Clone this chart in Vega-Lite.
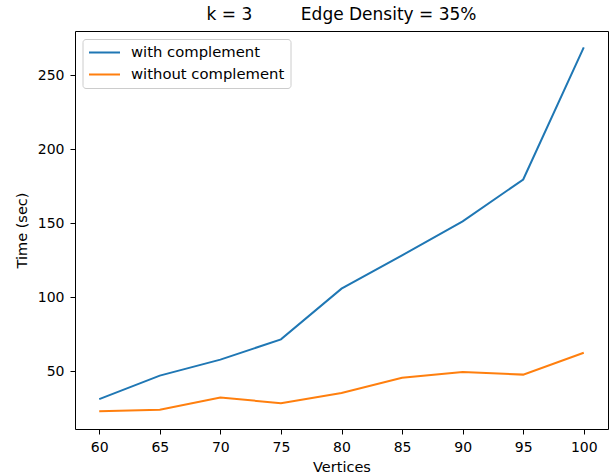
{
  "$schema": "https://vega.github.io/schema/vega-lite/v6.json",
  "autosize": {"type": "none"},
  "padding": {"left": 75, "top": 31, "right": 7, "bottom": 47},
  "width": 533,
  "height": 398,
  "background": "white",
  "title": {
    "text": "k = 3\u00a0\u00a0\u00a0\u00a0\u00a0\u00a0\u00a0\u00a0\u00a0Edge Density = 35%",
    "font": "DejaVu Sans",
    "fontSize": 17,
    "fontWeight": "normal",
    "color": "black",
    "anchor": "middle",
    "baseline": "alphabetic",
    "offset": 10,
    "dy": 16
  },
  "data": {
    "values": [
      {"Vertices": 60, "Time": 31.3, "series": "with complement"},
      {"Vertices": 65, "Time": 47.1, "series": "with complement"},
      {"Vertices": 70, "Time": 57.9, "series": "with complement"},
      {"Vertices": 75, "Time": 71.6, "series": "with complement"},
      {"Vertices": 80, "Time": 105.8, "series": "with complement"},
      {"Vertices": 85, "Time": 128.3, "series": "with complement"},
      {"Vertices": 90, "Time": 151.2, "series": "with complement"},
      {"Vertices": 95, "Time": 179.5, "series": "with complement"},
      {"Vertices": 100, "Time": 268.7, "series": "with complement"},
      {"Vertices": 60, "Time": 23.0, "series": "without complement"},
      {"Vertices": 65, "Time": 24.1, "series": "without complement"},
      {"Vertices": 70, "Time": 32.4, "series": "without complement"},
      {"Vertices": 75, "Time": 28.5, "series": "without complement"},
      {"Vertices": 80, "Time": 35.4, "series": "without complement"},
      {"Vertices": 85, "Time": 45.7, "series": "without complement"},
      {"Vertices": 90, "Time": 49.5, "series": "without complement"},
      {"Vertices": 95, "Time": 47.8, "series": "without complement"},
      {"Vertices": 100, "Time": 62.6, "series": "without complement"}
    ]
  },
  "mark": {"type": "line", "strokeWidth": 2, "clip": true},
  "encoding": {
    "x": {
      "field": "Vertices",
      "type": "quantitative",
      "scale": {"domain": [58, 102], "nice": false, "zero": false},
      "axis": {
        "title": "Vertices",
        "values": [60, 65, 70, 75, 80, 85, 90, 95, 100],
        "grid": false,
        "domain": false,
        "tickColor": "black",
        "tickSize": 5,
        "tickWidth": 1,
        "labelFont": "DejaVu Sans",
        "labelFontSize": 14,
        "labelColor": "black",
        "labelPadding": 6.5,
        "titleFont": "DejaVu Sans",
        "titleFontSize": 14.5,
        "titleFontWeight": "normal",
        "titleColor": "black",
        "titlePadding": 6
      }
    },
    "y": {
      "field": "Time",
      "type": "quantitative",
      "scale": {"domain": [11.1, 279.7], "nice": false, "zero": false},
      "axis": {
        "title": "Time (sec)",
        "values": [50, 100, 150, 200, 250],
        "grid": false,
        "domain": false,
        "tickColor": "black",
        "tickSize": 5,
        "tickWidth": 1,
        "labelFont": "DejaVu Sans",
        "labelFontSize": 14,
        "labelColor": "black",
        "labelPadding": 6,
        "titleFont": "DejaVu Sans",
        "titleFontSize": 14.5,
        "titleFontWeight": "normal",
        "titleColor": "black",
        "titlePadding": 8
      }
    },
    "color": {
      "field": "series",
      "type": "nominal",
      "scale": {"domain": ["with complement", "without complement"], "range": ["#1f77b4", "#ff7f0e"]},
      "legend": {
        "title": null,
        "orient": "none",
        "legendX": 7.5,
        "legendY": 8,
        "symbolType": "stroke",
        "symbolSize": 961,
        "symbolStrokeWidth": 2,
        "clipHeight": 16,
        "labelFont": "DejaVu Sans",
        "labelFontSize": 14.8,
        "labelColor": "black",
        "labelOffset": 10,
        "padding": 5.5,
        "rowPadding": 6,
        "fillColor": "white",
        "strokeColor": "#cccccc",
        "cornerRadius": 3
      }
    }
  },
  "config": {
    "view": {"stroke": "black", "strokeWidth": 1}
  }
}
